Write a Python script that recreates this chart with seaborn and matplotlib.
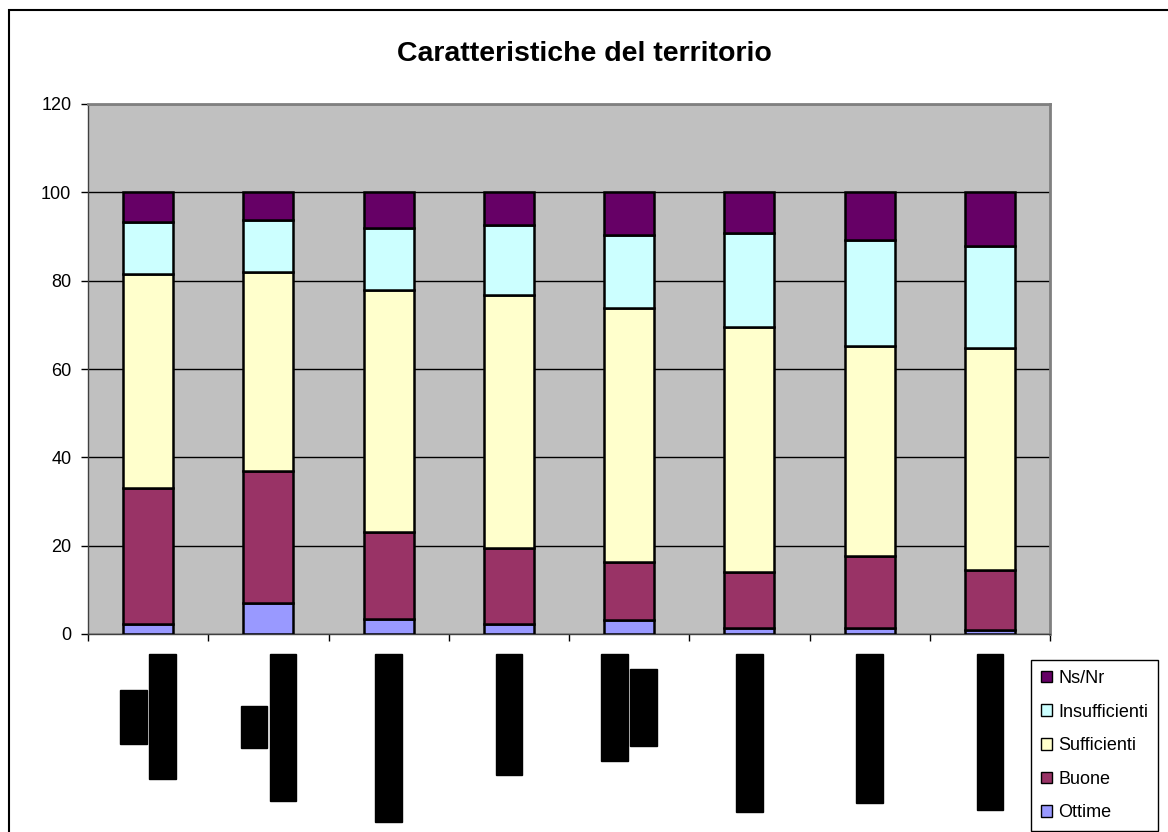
#!/usr/bin/env python3
"""Stacked bar chart: Caratteristiche del territorio."""

import matplotlib.pyplot as plt
import numpy as np
import pandas as pd
import seaborn as sns
from matplotlib.patches import Patch, Rectangle

# category labels (rotated, shown redacted as in the source), one list per bar
LABEL_LINES = [
    ["Strade", "dei servizi pubblici"],
    ["Aree", "verdi e spazi ricreativi"],
    ["Traffico e viabilità urbana"],
    ["Sicurezza urbana"],
    ["Pulizia stradale", "e dei rifiuti"],
    ["Le opportunità di lavoro"],
    ["Servizi per gli studenti"],
    ["Qualità dell'aria urbana"],
]
CATEGORIES = [" ".join(lines) for lines in LABEL_LINES]

SERIES = ["Ottime", "Buone", "Sufficienti", "Insufficienti", "Ns/Nr"]
OTTIME = [2.2, 7.0, 3.3, 2.2, 3.2, 1.4, 1.4, 0.9]
BUONE = [30.8, 29.8, 19.7, 17.2, 13.2, 12.6, 16.2, 13.7]
SUFFICIENTI = [48.4, 45.2, 54.9, 57.3, 57.3, 55.6, 47.7, 50.1]
INSUFFICIENTI = [11.8, 11.8, 14.0, 16.0, 16.6, 21.3, 23.8, 23.2]
NS_NR = [6.8, 6.2, 8.1, 7.3, 9.7, 9.1, 10.9, 12.1]
VALUES = [OTTIME, BUONE, SUFFICIENTI, INSUFFICIENTI, NS_NR]

COLORS = ["#9999FF", "#993366", "#FFFFCC", "#CCFFFF", "#660066"]
Y_TICKS = [0, 20, 40, 60, 80, 100, 120]

W, H, DPI = 1168, 832, 100


def main() -> None:
    sns.set_theme(style="ticks")
    plt.rcParams["font.family"] = ["Liberation Sans", "DejaVu Sans"]
    plt.rcParams["text.color"] = "black"

    fig = plt.figure(figsize=(W / DPI, H / DPI), dpi=DPI)
    fig.patch.set_facecolor("white")
    ax = fig.add_axes([88 / W, 1 - 634 / H, (1050 - 88) / W, (634 - 104) / H])
    ax.set_facecolor("#C0C0C0")

    bottom = np.zeros(len(CATEGORIES))
    for name, vals, color in zip(SERIES, VALUES, COLORS):
        df = pd.DataFrame({"cat": CATEGORIES, "val": vals})
        sns.barplot(
            data=df, x="cat", y="val", color=color, saturation=1,
            bottom=bottom, width=0.417, edgecolor="black", linewidth=1.8,
            errorbar=None, ax=ax, zorder=3,
        )
        bottom = bottom + np.array(vals)

    ax.set_xlim(-0.5, len(CATEGORIES) - 0.5)
    ax.set_ylim(0, 120)
    ax.set_yticks(Y_TICKS)
    ax.set_yticklabels([str(v) for v in Y_TICKS], fontsize=13)
    ax.set_xlabel("")
    ax.set_ylabel("")
    ax.set_xticks([])
    ax.set_xticks(np.arange(-0.5, len(CATEGORIES)), minor=True)
    ax.tick_params(axis="x", which="minor", length=5, width=1, color="black",
                   direction="out", labelbottom=False)
    ax.tick_params(axis="y", length=5, width=1, color="black", direction="out",
                   pad=7, labelcolor="black")
    ax.yaxis.grid(True, color="black", linewidth=1)
    ax.set_axisbelow(True)
    for side in ("top", "right"):
        ax.spines[side].set_visible(True)
        ax.spines[side].set_color("#808080")
        ax.spines[side].set_linewidth(2)
    ax.spines["left"].set_color("#404040")
    ax.spines["bottom"].set_color("#404040")
    ax.spines["left"].set_linewidth(1)
    ax.spines["bottom"].set_linewidth(1)

    # rotated category labels, each line in its own black box
    groups = []
    for i, lines in enumerate(LABEL_LINES):
        n = len(lines)
        texts = []
        for j, line in enumerate(lines):
            dx = (j - (n - 1) / 2) * 29
            t = ax.annotate(
                line, xy=(i, 0), xycoords=("data", "axes fraction"),
                xytext=(dx, -60), textcoords="offset pixels",
                rotation=90, ha="center", va="center", fontsize=10,
                color="black", annotation_clip=False,
                bbox=dict(boxstyle="square,pad=0.45", fc="black", ec="black"),
            )
            texts.append((t, dx))
        groups.append(texts)

    fig.canvas.draw()
    renderer = fig.canvas.get_renderer()
    for texts in groups:
        longest = max(t.get_bbox_patch().get_window_extent(renderer).height
                      for t, _ in texts)
        for t, dx in texts:
            t.xyann = (dx, -(20 + longest / 2))

    fig.suptitle("Caratteristiche del territorio", x=584 / W, y=1 - 54 / H,
                 va="center", fontsize=20.5, fontweight="bold", color="black")

    handles = [Patch(facecolor=c, edgecolor="black", linewidth=1)
               for c in COLORS][::-1]
    leg = fig.legend(
        handles, SERIES[::-1], loc="upper left",
        bbox_to_anchor=(1031 / W, 1 - 660 / H), fontsize=13,
        frameon=True, fancybox=False, edgecolor="black", framealpha=1,
        handlelength=0.6, handleheight=0.6, handletextpad=0.35,
        labelspacing=0.92, borderpad=0.55, borderaxespad=0,
    )
    leg.get_frame().set_linewidth(1)
    for txt in leg.get_texts():
        txt.set_color("black")

    # outer chart border (runs off the right and bottom edges)
    fig.patches.append(Rectangle(
        (9 / W, -0.1), 1.2, 1.1 - 10 / H, transform=fig.transFigure,
        fill=False, edgecolor="black", linewidth=1.5, zorder=0,
    ))

    fig.savefig("out.png", dpi=DPI)
    plt.close(fig)


if __name__ == "__main__":
    main()
